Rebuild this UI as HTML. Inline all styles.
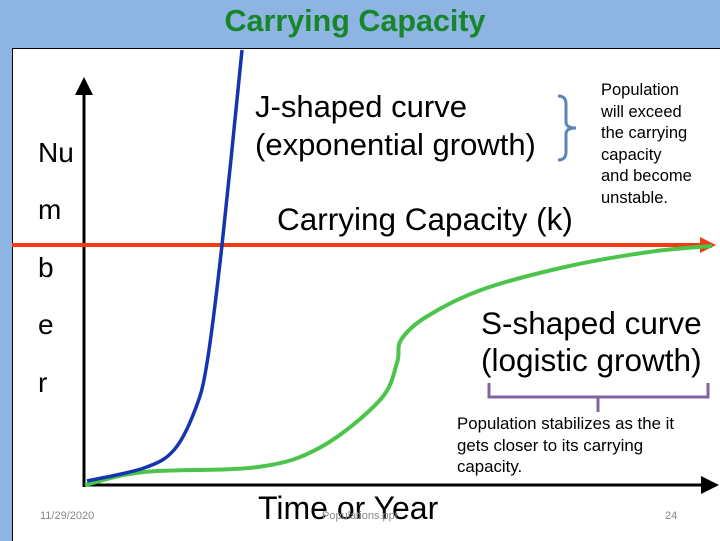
<!DOCTYPE html>
<html><head><meta charset="utf-8"><style>
body{margin:0;width:720px;height:540px;overflow:hidden;background:#8eb4e3;font-family:"Liberation Sans",sans-serif;}
#slide{position:absolute;left:12px;top:48px;width:708px;height:492px;background:#fff;border-top:1.5px solid #000;border-left:1.5px solid #000;}
.t{position:absolute;white-space:nowrap;color:#000;}
</style></head><body>
<div class="t" style="left:0;width:710px;text-align:center;top:4px;font-size:30.5px;font-weight:bold;color:#17862a;">Carrying Capacity</div>
<div id="slide"></div>
<svg width="720" height="540" style="position:absolute;left:0;top:0">
<defs>
<marker id="ab" markerWidth="6" markerHeight="6" refX="5" refY="3" orient="auto"><path d="M0,0 L6,3 L0,6z" fill="#000"/></marker>
<marker id="ar" markerWidth="4" markerHeight="4" refX="3" refY="2" orient="auto"><path d="M0,0 L4,2 L0,4z" fill="#f03c10"/></marker>
</defs>
<line x1="84" y1="487" x2="84" y2="80" stroke="#000" stroke-width="3" marker-end="url(#ab)"/>
<line x1="83" y1="485" x2="716" y2="485" stroke="#000" stroke-width="3" marker-end="url(#ab)"/>
<line x1="12" y1="245" x2="712" y2="245" stroke="#f03c10" stroke-width="4" marker-end="url(#ar)"/>
<path id="green" fill="none" stroke="#4cc44c" stroke-width="4"/>
<path id="blue" fill="none" stroke="#1535b0" stroke-width="3.5"/>
<path d="M558,96 Q566,96 566,104 L566,122 Q566,128 576,128 Q566,128 566,134 L566,152 Q566,160 558,160" fill="none" stroke="#5b86b8" stroke-width="3"/>
<path d="M489,383 L489,397 L708,397 L708,383 M598,397 L598,412" fill="none" stroke="#8064a2" stroke-width="3"/>
</svg>
<script>
const sX=[85,144,258,321,380,397,401,426,481,565,649,712];
const sY=[485,472,467,447,400,363,340,317,290,267,252,246];
const jX=[87,144,174,195,207,222,242];
const jY=[481,468,450,410,363,245,50];
function smooth(xs,ys){
  let d='M'+xs[0]+','+ys[0];
  for(let i=0;i<xs.length-1;i++){
    const x0=xs[Math.max(i-1,0)],y0=ys[Math.max(i-1,0)];
    const x1=xs[i],y1=ys[i],x2=xs[i+1],y2=ys[i+1];
    const x3=xs[Math.min(i+2,xs.length-1)],y3=ys[Math.min(i+2,xs.length-1)];
    d+=' C'+(x1+(x2-x0)/6)+','+(y1+(y2-y0)/6)+' '+(x2-(x3-x1)/6)+','+(y2-(y3-y1)/6)+' '+x2+','+y2;
  }
  return d;
}
document.getElementById('green').setAttribute('d',smooth(sX,sY));
document.getElementById('blue').setAttribute('d',smooth(jX,jY));
</script>
<div class="t" style="left:38px;top:137px;font-size:28px">Nu</div>
<div class="t" style="left:38px;top:194px;font-size:28px">m</div>
<div class="t" style="left:38px;top:252px;font-size:28px">b</div>
<div class="t" style="left:38px;top:309px;font-size:28px">e</div>
<div class="t" style="left:38px;top:367px;font-size:28px">r</div>
<div class="t" style="left:255px;top:88px;font-size:31px;line-height:38px">J-shaped curve<br>(exponential growth)</div>
<div class="t" style="left:277px;top:201px;font-size:31.5px">Carrying Capacity (k)</div>
<div class="t" style="left:601px;top:80px;font-size:16.5px;line-height:21.6px">Population<br>will exceed<br>the carrying<br>capacity<br>and become<br>unstable.</div>
<div class="t" style="left:481px;top:305px;font-size:31.5px;line-height:37px">S-shaped curve<br>(logistic growth)</div>
<div class="t" style="left:457px;top:414px;font-size:16.5px;line-height:21.5px;transform:scaleX(1.02);transform-origin:left">Population stabilizes as the it<br>gets closer to its carrying<br>capacity.</div>
<div class="t" style="left:258px;top:490px;font-size:32px">Time or Year</div>
<div class="t" style="left:40px;top:510px;font-size:11px;color:#888">11/29/2020</div>
<div class="t" style="left:322px;top:510px;font-size:11px;color:#888">Populations.ppt</div>
<div class="t" style="left:665px;top:510px;font-size:11px;color:#888">24</div>
</body></html>
